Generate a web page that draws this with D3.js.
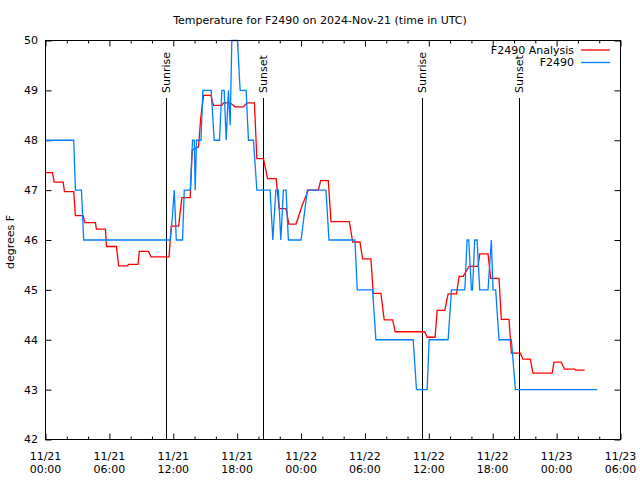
<!DOCTYPE html>
<html><head><meta charset="utf-8">
<script src="https://cdn.jsdelivr.net/npm/d3@7"></script>
<style>
body{margin:0;background:#fff;}
svg{display:block;}
text{font-family:"DejaVu Sans",sans-serif;font-size:11px;fill:#000;}
</style></head>
<body>
<svg id="chart" width="640" height="480"></svg>
<script>
// ---- data (hours since 2024-11-21 00:00 UTC, degrees F) ----
const obsHours = [0,2.65,2.81,3.375,3.59,11.72,11.93,12.09,12.19,12.28,12.87,13.03,13.59,13.81,13.97,14.06,14.18,14.6,14.78,15.56,15.84,16.34,16.56,16.78,16.97,17.18,17.34,17.5,18.03,18.28,18.84,19.06,19.53,19.85,21.09,21.35,21.63,21.87,22.1,22.34,22.59,22.81,24.0,24.59,26.34,26.62,29.06,29.28,30.72,31.03,34.53,34.84,35.84,36.03,37.81,38.13,39.38,39.59,39.75,40.0,40.1,40.31,40.53,40.78,41.56,41.87,42.03,42.28,42.59,43.75,44.13,51.81];
const obsTemps = [48,48,47,47,46,46,46.5,47,46.5,46,46,47,47,48,48,47,48,48,49,49,48,48,49,49,48,49,48.3,50,50,49,49,48,48,47,47,46,47,47,46,47,47,46,46,47,47,46,46,45,45,44,44,43,43,44,44,45,45,46,46,45,45,46,46,45,45,46,45,45,44,44,43,43];

const anaHours = [0,0.66,0.82,1.66,1.78,2.65,2.81,3.53,3.7,4.69,4.78,5.63,5.72,6.66,6.87,7.72,7.78,8.69,8.81,9.68,9.91,11.6,11.81,12.5,12.81,13.59,13.78,14.37,14.58,14.84,15.53,15.78,16.56,16.72,17.34,17.81,18.59,18.9,19.62,19.85,20.47,20.85,21.66,21.94,22.59,22.85,23.53,24.12,24.68,25.62,25.84,26.56,26.81,28.53,28.85,29.53,29.78,30.56,30.78,31.5,31.81,32.6,32.84,35.62,35.84,36.59,36.78,37.5,37.81,38.6,38.84,39.22,39.78,40.62,40.78,41.56,41.81,42.59,42.81,43.53,43.75,44.59,44.84,45.53,45.78,47.59,47.75,48.44,48.75,49.69,49.78,50.63];
const anaTemps = [47.35,47.35,47.16,47.16,46.97,46.97,46.49,46.49,46.35,46.35,46.22,46.22,45.87,45.87,45.48,45.48,45.51,45.51,45.77,45.77,45.66,45.66,46.28,46.28,46.85,46.85,47.8,47.87,48.45,48.9,48.9,48.7,48.7,48.75,48.75,48.67,48.67,48.75,48.75,47.63,47.63,47.23,47.23,46.63,46.63,46.32,46.32,46.7,47.0,47.0,47.19,47.19,46.37,46.37,45.96,45.96,45.62,45.62,44.93,44.93,44.4,44.4,44.16,44.16,44.05,44.05,44.59,44.59,44.92,44.92,45.27,45.27,45.47,45.47,45.72,45.72,45.23,45.23,44.41,44.41,43.73,43.73,43.61,43.61,43.33,43.33,43.55,43.55,43.41,43.41,43.39,43.39];

const sunEventHours = [11.35, 20.45, 35.38, 44.45];
const sunEventNames = ["Sunrise", "Sunset", "Sunrise", "Sunset"];

const xTickHours = [0,6,12,18,24,30,36,42,48,54];
const xTickDates = ["11/21","11/21","11/21","11/21","11/22","11/22","11/22","11/22","11/23","11/23"];
const xTickTimes = ["00:00","06:00","12:00","18:00","00:00","06:00","12:00","18:00","00:00","06:00"];
const yTicks = [42,43,44,45,46,47,48,49,50];

const seriesNames = ["F2490 Analysis", "F2490"];
const seriesColors = ["#ff0000", "#0080ff"];

// ---- layout ----
const L = 45.5, R = 620.5, T = 40.5, B = 439.5;
const svg = d3.select("#chart");
const x = d3.scaleLinear().domain([0, 54]).range([L, R]);
const y = d3.scaleLinear().domain([42, 50]).range([B, T]);

// title
svg.append("text").attr("x", 320).attr("y", 24).attr("text-anchor", "middle")
  .text("Temperature for F2490 on 2024-Nov-21 (time in UTC)");

// axes (ticks inward, mirrored)
const minor = d3.range(0, 55, 2).filter(h => h % 6 !== 0);
function styleAxis(g){ g.select(".domain").remove(); g.selectAll("text").remove(); g.selectAll("line").attr("stroke","#000"); }
svg.append("g").attr("transform", `translate(0,${B})`).call(d3.axisBottom(x).tickValues(xTickHours).tickSize(-6)).call(styleAxis);
svg.append("g").attr("transform", `translate(0,${B})`).call(d3.axisBottom(x).tickValues(minor).tickSize(-3)).call(styleAxis);
svg.append("g").attr("transform", `translate(0,${T})`).call(d3.axisTop(x).tickValues(xTickHours).tickSize(-6)).call(styleAxis);
svg.append("g").attr("transform", `translate(0,${T})`).call(d3.axisTop(x).tickValues(minor).tickSize(-3)).call(styleAxis);
svg.append("g").attr("transform", `translate(${L},0)`).call(d3.axisLeft(y).tickValues(yTicks).tickSize(-6)).call(styleAxis);
svg.append("g").attr("transform", `translate(${R},0)`).call(d3.axisRight(y).tickValues(yTicks).tickSize(-6)).call(styleAxis);

// y tick labels
svg.append("g").selectAll("text").data(yTicks).join("text")
  .attr("x", 38).attr("y", d => y(d)).attr("dy", "0.36em").attr("text-anchor", "end").text(d => d);
// x tick labels (two lines)
const xl = svg.append("g").selectAll("text").data(xTickHours).join("text")
  .attr("text-anchor", "middle");
xl.append("tspan").attr("x", d => x(d)).attr("y", 460).text((d,i) => xTickDates[i]);
xl.append("tspan").attr("x", d => x(d)).attr("y", 473).text((d,i) => xTickTimes[i]);

// y label
svg.append("text").attr("transform", "translate(14,242) rotate(-90)").attr("text-anchor", "middle")
  .text("degrees F");

// sunrise / sunset
sunEventHours.forEach((h, i) => {
  svg.append("line").attr("x1", Math.round(x(h)) + 0.5).attr("x2", Math.round(x(h)) + 0.5)
    .attr("y1", 98).attr("y2", B).attr("stroke", "#000").attr("stroke-width", 1);
  svg.append("text").attr("transform", `translate(${Math.round(x(h)) + 0.5},93) rotate(-90)`)
    .attr("dy", "0.36em").attr("text-anchor", "start").text(sunEventNames[i]);
});

// lines
const line = d3.line().x(d => x(d[0])).y(d => y(d[1]));
const ana = anaHours.map((h, i) => [h, anaTemps[i]]);
const obs = obsHours.map((h, i) => [h, obsTemps[i]]);
svg.append("path").datum(ana).attr("d", line).attr("fill", "none").attr("stroke", seriesColors[0]).attr("stroke-width", 1.3);
svg.append("path").datum(obs).attr("d", line).attr("fill", "none").attr("stroke", seriesColors[1]).attr("stroke-width", 1.3);

// legend
seriesNames.forEach((n, i) => {
  const ly = 50 + i * 12.5;
  svg.append("text").attr("x", 574).attr("y", ly).attr("dy", "0.36em").attr("text-anchor", "end").text(n);
  svg.append("line").attr("x1", 581).attr("x2", 610).attr("y1", ly).attr("y2", ly)
    .attr("stroke", seriesColors[i]).attr("stroke-width", 1.3);
});

// border
svg.append("rect").attr("x", L).attr("y", T).attr("width", R - L).attr("height", B - T)
  .attr("fill", "none").attr("stroke", "#000").attr("stroke-width", 1);
</script>
</body></html>
